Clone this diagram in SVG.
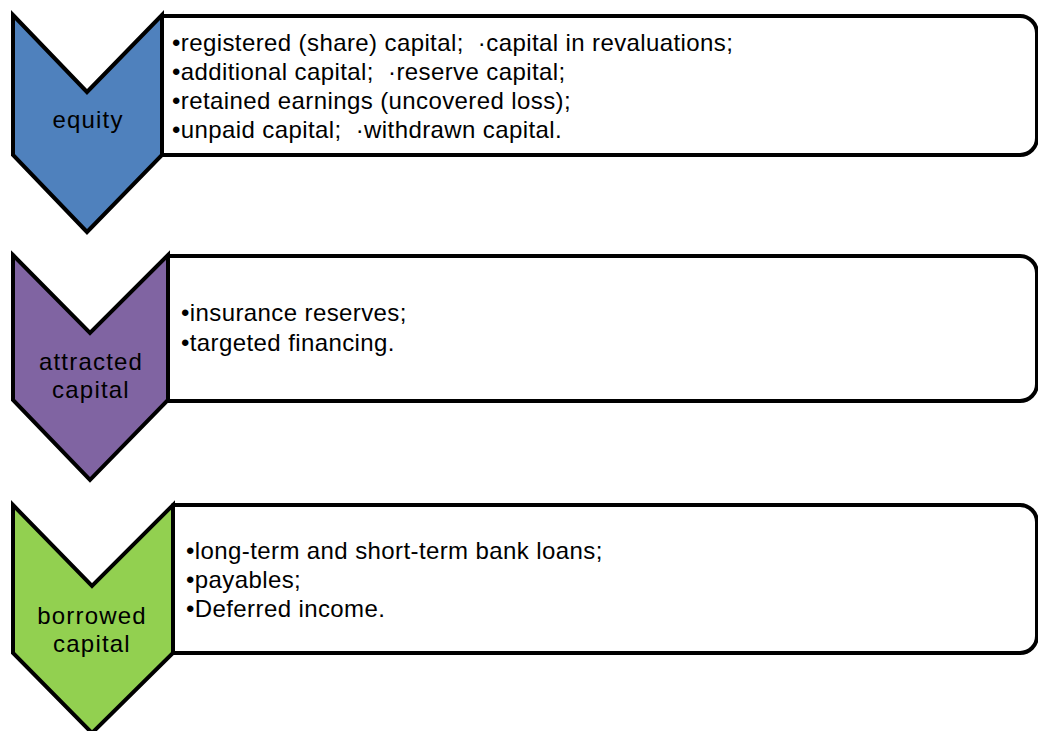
<svg xmlns="http://www.w3.org/2000/svg" width="1038" height="731" viewBox="0 0 1038 731">
<style>
.box{fill:#fff;stroke:#000;stroke-width:4;stroke-linejoin:round}
.chev{stroke:#000;stroke-width:4;stroke-linejoin:miter}
.t{font-family:"Liberation Sans",Arial,sans-serif;font-size:24px;letter-spacing:0.4px;fill:#000;white-space:pre}
.lbl{font-family:"Liberation Sans",Arial,sans-serif;font-size:24px;letter-spacing:1.2px;fill:#000;text-anchor:middle}
</style>
<rect width="1038" height="731" fill="#fff"/>
<g id="connectors"></g>
<g id="equity">
<path class="box" d="M162,16 H1020 A17,17 0 0 1 1037,33 V138 A17,17 0 0 1 1020,155 H162 Z"/>
<polygon class="chev" fill="#4F81BD" points="13,15 87,92 162,15 162,155 87,232 13,155"/>
<text class="lbl" x="88" y="128">equity</text>
<text class="t" x="172" y="51" xml:space="preserve">•registered (share) capital;  ·capital in revaluations;</text>
<text class="t" x="172" y="80" xml:space="preserve">•additional capital;  ·reserve capital;</text>
<text class="t" x="172" y="109" xml:space="preserve">•retained earnings (uncovered loss);</text>
<text class="t" x="172" y="138" xml:space="preserve">•unpaid capital;  ·withdrawn capital.</text>
</g>
<g id="attracted">
<path class="box" d="M168,256 H1020 A17,17 0 0 1 1037,273 V384 A17,17 0 0 1 1020,401 H168 Z"/>
<polygon class="chev" fill="#8064A2" points="13,255 90,333 168,255 168,400 90,480 13,400"/>
<text class="lbl" x="91" y="370">attracted</text>
<text class="lbl" x="91" y="398">capital</text>
<text class="t" x="181" y="321">•insurance reserves;</text>
<text class="t" x="181" y="351">•targeted financing.</text>
</g>
<g id="borrowed">
<path class="box" d="M173,505 H1020 A17,17 0 0 1 1037,522 V636 A17,17 0 0 1 1020,653 H173 Z"/>
<polygon class="chev" fill="#92D050" points="13,505 92,586 173,505 173,653 92,733 13,653"/>
<text class="lbl" x="92" y="624">borrowed</text>
<text class="lbl" x="92" y="652">capital</text>
<text class="t" x="186" y="559">•long-term and short-term bank loans;</text>
<text class="t" x="186" y="588">•payables;</text>
<text class="t" x="186" y="617">•Deferred income.</text>
</g>
</svg>
